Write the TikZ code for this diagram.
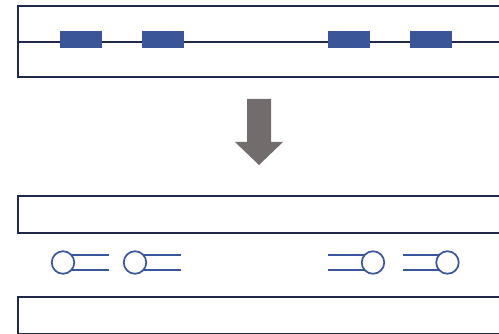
\documentclass[tikz,border=0pt]{standalone}
\usetikzlibrary{positioning,backgrounds}
\definecolor{frame}{HTML}{1F2A4A}
\definecolor{seg}{HTML}{3A5598}
\definecolor{lolly}{HTML}{3A55A0}
\definecolor{arrowgray}{HTML}{736C6C}
\begin{document}
\begin{tikzpicture}[x=1pt,y=-1pt,
  band/.style={draw=frame,line width=2pt,minimum height=#1,minimum width=484pt,inner sep=0pt,anchor=north west},
  seg/.style={fill=seg,draw=none,minimum width=42pt,minimum height=17pt,inner sep=0pt},
  head/.style={circle,draw=lolly,line width=1.7pt,fill=white,minimum size=22.5pt,inner sep=0pt},
  tail/.style={draw=lolly,line width=1.7pt}]
\useasboundingbox (0,0) rectangle (499,334);
\clip (0,0) rectangle (499,334);

% upper strand with four segments
\node[band=71pt] (top) at (16.5,5.5) {};
\draw[frame,line width=2pt] (top.west) -- (top.east);
\node[seg] (s1) at (81,39.5) {};
\node[seg] (s2) at (163,39.5) {};
\node[seg] (s3) at (349,39.5) {};
\node[seg] (s4) at (431,39.5) {};

% downward arrow
\fill[arrowgray] (247,99) -- (271,99) -- (271,142) -- (283,142) -- (259,165)
  -- (235,142) -- (247,142) -- cycle;

% lower two strands
\node[band=37.5pt] (b1) at (16.5,195) {};
\node[band=37.5pt] (b2) at (16.5,296) {};

% released pieces: round heads with double tails running under them
\node[head] (h1) at (63,262.5) {};
\node[head] (h2) at (135,262.5) {};
\node[head] (h3) at (373,262.5) {};
\node[head] (h4) at (447.5,262.5) {};
\coordinate (e1) at (109,0);
\coordinate (e2) at (181,0);
\coordinate (e3) at (328,0);
\coordinate (e4) at (403,0);
\begin{scope}[on background layer]
\draw[tail] (h1.center |- 0,255) -- (e1 |- 0,255) (h1.center |- 0,270) -- (e1 |- 0,270);
\draw[tail] (h2.center |- 0,255) -- (e2 |- 0,255) (h2.center |- 0,270) -- (e2 |- 0,270);
\draw[tail] (h3.center |- 0,255) -- (e3 |- 0,255) (h3.center |- 0,270) -- (e3 |- 0,270);
\draw[tail] (h4.center |- 0,255) -- (e4 |- 0,255) (h4.center |- 0,270) -- (e4 |- 0,270);
\end{scope}
\end{tikzpicture}
\end{document}
